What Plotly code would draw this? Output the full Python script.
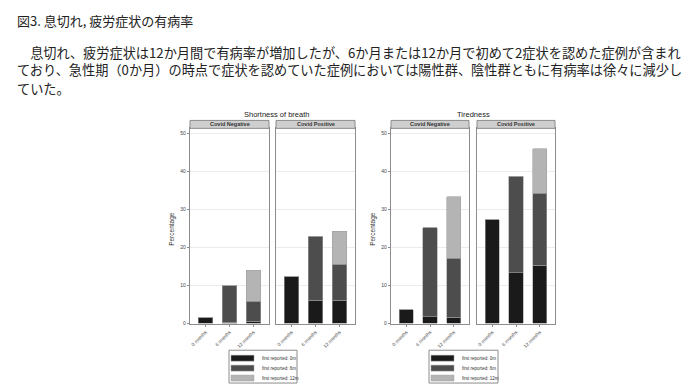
import plotly.graph_objects as go

W, H = 700, 385

# ---------------- data ----------------
months = ["0 months", "6 months", "12 months"]
series_names = ["first reported: 0m", "first reported: 6m", "first reported: 12m"]
series_colors = ["#1a1a1a", "#4d4d4d", "#b4b4b4"]
groups = ["Covid Negative", "Covid Positive"]
chart_titles = ["Shortness of breath", "Tiredness"]
y_ticks = [0, 10, 20, 30, 40, 50]

# stacked segment values (percentage) per month: [0m, 6m, 12m]
sob_neg_first0 = [1.5, 0.3, 0.6]
sob_neg_first6 = [0.0, 9.65, 5.2]
sob_neg_first12 = [0.0, 0.0, 8.2]

sob_pos_first0 = [12.2, 6.1, 6.1]
sob_pos_first6 = [0.0, 16.8, 9.4]
sob_pos_first12 = [0.0, 0.0, 8.7]

tired_neg_first0 = [3.6, 1.7, 1.6]
tired_neg_first6 = [0.0, 23.4, 15.5]
tired_neg_first12 = [0.0, 0.0, 16.2]

tired_pos_first0 = [27.2, 13.3, 15.3]
tired_pos_first6 = [0.0, 25.4, 18.9]
tired_pos_first12 = [0.0, 0.0, 11.7]

title_jp = "図3. 息切れ, 疲労症状の有病率"
body_lines = [
    "　息切れ、疲労症状は12か月間で有病率が増加したが、6か月または12か月で初めて2症状を認めた症例が含まれ",
    "ており、急性期（0か月）の時点で症状を認めていた症例においては陽性群、陰性群ともに有病率は徐々に減少し",
    "ていた。",
]

# ---------------- layout helpers ----------------
def PX(x):
    return x / W

def PY(y):
    return 1 - y / H

panels = [
    (182, 261),
    (268, 347),
    (383, 461),
    (469, 547),
]
panel_data = [
    (sob_neg_first0, sob_neg_first6, sob_neg_first12),
    (sob_pos_first0, sob_pos_first6, sob_pos_first12),
    (tired_neg_first0, tired_neg_first6, tired_neg_first12),
    (tired_pos_first0, tired_pos_first6, tired_pos_first12),
]
plot_top, plot_bot = 121, 318
px_per_unit = (317 - 126) / 50.0
y_lo = -(plot_bot - 317) / px_per_unit
y_hi = y_lo + (plot_bot - plot_top) / px_per_unit

fig = go.Figure()

for i, segs in enumerate(panel_data):
    ax = "" if i == 0 else str(i + 1)
    for s, vals in enumerate(segs):
        fig.add_trace(go.Bar(
            x=months, y=vals, name=series_names[s],
            marker=dict(color=series_colors[s], line=dict(color="#a0a0a0", width=0.6)),
            width=0.6, showlegend=False,
            xaxis="x" + ax, yaxis="y" + ax,
            hoverinfo="skip",
        ))

lay = dict(
    width=W, height=H, margin=dict(l=0, r=0, t=0, b=0),
    paper_bgcolor="white", plot_bgcolor="white",
    barmode="stack", showlegend=False,
    font=dict(family="Liberation Sans, Arial, sans-serif", color="#333"),
)
for i, (x0, x1) in enumerate(panels):
    ax = "" if i == 0 else str(i + 1)
    left = i in (0, 2)
    lay["xaxis" + ax] = dict(
        domain=[PX(x0), PX(x1)], anchor="y" + ax,
        type="category", categoryorder="array", categoryarray=months,
        range=[-0.65, 2.65], tickangle=-45,
        tickfont=dict(size=4.8, color="#444"),
        showline=True, mirror=True, linecolor="#8c8c8c", linewidth=1.2,
        ticks="outside", ticklen=2, tickcolor="#8c8c8c", showgrid=False,
        fixedrange=True,
    )
    lay["yaxis" + ax] = dict(
        domain=[PY(plot_bot), PY(plot_top)], anchor="x" + ax,
        range=[y_lo, y_hi], tickvals=y_ticks,
        showticklabels=left, ticks="outside" if left else "",
        ticklen=2, tickcolor="#8c8c8c",
        tickfont=dict(size=5, color="#444"),
        showline=True, mirror=True, linecolor="#8c8c8c", linewidth=1.2,
        showgrid=True, gridcolor="#ebebeb", gridwidth=1, zeroline=False,
        fixedrange=True,
    )
fig.update_layout(**lay)

shapes = []
annotations = []

# facet strips
for i, (x0, x1) in enumerate(panels):
    shapes.append(dict(type="rect", xref="paper", yref="paper",
                       x0=PX(x0), x1=PX(x1), y0=PY(121), y1=PY(113),
                       fillcolor="#cfcfcf", line=dict(color="#8c8c8c", width=1)))
    annotations.append(dict(xref="paper", yref="paper", x=PX((x0 + x1) / 2), y=PY(117),
                            text="<b>" + groups[i % 2] + "</b>", showarrow=False,
                            font=dict(size=5.5, color="#333"), xanchor="center", yanchor="middle"))

# chart titles and y titles
for c, (tx, ylab_x) in enumerate([(268, 164), (465, 365)]):
    annotations.append(dict(xref="paper", yref="paper", x=PX(tx), y=PY(107),
                            text=chart_titles[c], showarrow=False,
                            font=dict(size=7.5, color="#222"), xanchor="center", yanchor="middle"))
    annotations.append(dict(xref="paper", yref="paper", x=PX(ylab_x), y=PY(222),
                            text="Percentage", showarrow=False, textangle=-90,
                            font=dict(size=6.5, color="#333"), xanchor="center", yanchor="middle"))

# legends
for lx0, lx1 in [(221, 289), (421, 490)]:
    shapes.append(dict(type="rect", xref="paper", yref="paper",
                       x0=PX(lx0), x1=PX(lx1), y0=PY(377), y1=PY(344),
                       fillcolor="white", line=dict(color="#8c8c8c", width=1)))
    for s, cy in enumerate([352, 362, 372]):
        shapes.append(dict(type="rect", xref="paper", yref="paper",
                           x0=PX(lx0 + 2), x1=PX(lx0 + 25), y0=PY(cy + 3), y1=PY(cy - 3),
                           fillcolor=series_colors[s], line=dict(color="#a0a0a0", width=0.5)))
        annotations.append(dict(xref="paper", yref="paper", x=PX(lx0 + 31), y=PY(cy),
                                text=series_names[s], showarrow=False,
                                font=dict(size=4.5, color="#333"), xanchor="left", yanchor="middle"))

# Japanese text
jp_font = "Noto Sans CJK JP"
annotations.append(dict(xref="paper", yref="paper", x=PX(7), y=PY(13), text=title_jp,
                        showarrow=False, xanchor="left", yanchor="middle",
                        font=dict(family=jp_font, size=13, color="#222")))
annotations.append(dict(xref="paper", yref="paper", x=PX(7), y=PY(53.6), text="<br>".join(body_lines[:2]),
                        showarrow=False, xanchor="left", yanchor="middle", align="left",
                        font=dict(family=jp_font, size=13.2, color="#222")))
annotations.append(dict(xref="paper", yref="paper", x=PX(7), y=PY(81), text=body_lines[2],
                        showarrow=False, xanchor="left", yanchor="middle", align="left",
                        font=dict(family=jp_font, size=13.2, color="#222")))

fig.update_layout(shapes=shapes, annotations=annotations)
fig.write_html("out.html")
